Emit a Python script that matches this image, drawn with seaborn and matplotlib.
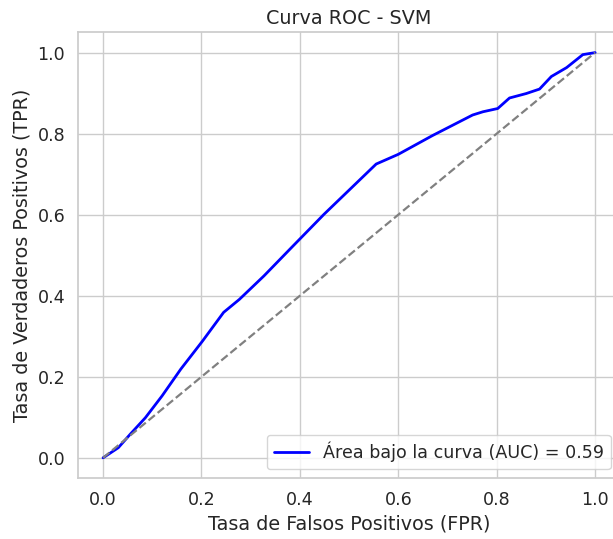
import numpy as np
import pandas as pd
import matplotlib
matplotlib.use('Agg')
import matplotlib.pyplot as plt
import seaborn as sns

# ROC points
fpr = [0.0, 0.031, 0.055, 0.086, 0.120, 0.158, 0.202, 0.245, 0.277, 0.327,
       0.383, 0.449, 0.555, 0.600, 0.669, 0.751, 0.772, 0.802, 0.826, 0.860,
       0.887, 0.911, 0.942, 0.975, 1.0]
tpr = [0.0, 0.025, 0.058, 0.099, 0.153, 0.219, 0.288, 0.359, 0.391, 0.449,
       0.519, 0.601, 0.725, 0.749, 0.795, 0.846, 0.854, 0.862, 0.888, 0.899,
       0.910, 0.941, 0.963, 0.995, 1.0]
auc_val = 0.59
diag = [0.0, 1.0]

sns.set_theme(style='whitegrid', font_scale=1.15)

roc = pd.DataFrame({'fpr': fpr, 'tpr': tpr})

fig, ax = plt.subplots(figsize=(6.13, 5.39), dpi=100)
sns.lineplot(data=roc, x='fpr', y='tpr', color='blue', lw=2, sort=False,
             label='Área bajo la curva (AUC) = %.2f' % auc_val, ax=ax)
ax.plot(diag, diag, color='gray', lw=1.6, linestyle='--')
ax.set_title('Curva ROC - SVM')
ax.set_xlabel('Tasa de Falsos Positivos (FPR)')
ax.set_ylabel('Tasa de Verdaderos Positivos (TPR)')
ax.legend(loc='lower right')
plt.subplots_adjust(left=0.128, right=1.011, bottom=0.113, top=0.940)
plt.savefig('out.png')
